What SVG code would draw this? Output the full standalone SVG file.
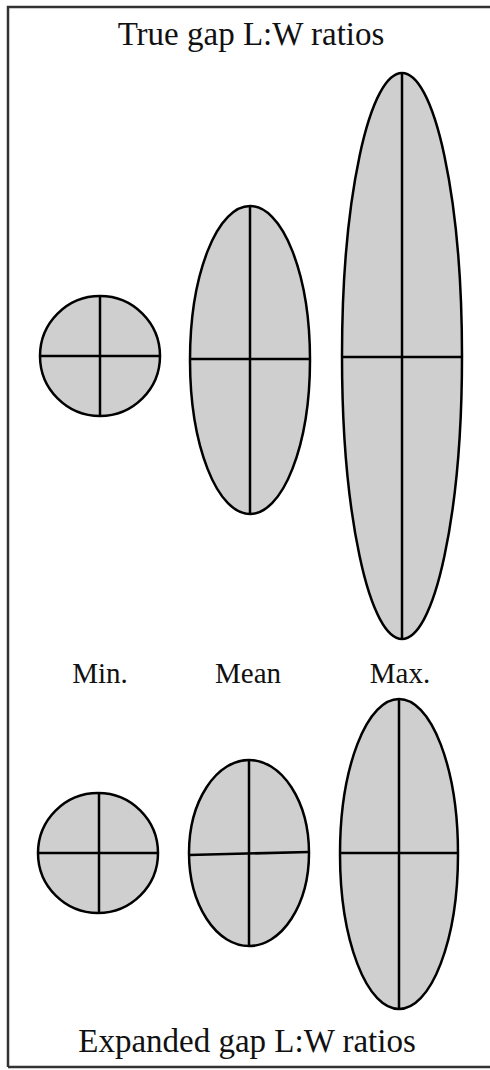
<svg xmlns="http://www.w3.org/2000/svg" width="490" height="1070" viewBox="0 0 490 1070">
<style>
.sh{fill:#cfcfcf;stroke:#000;stroke-width:2.5}
.ax{stroke:#000;stroke-width:2.5}
.t{font-family:"Liberation Serif","Times New Roman",serif;fill:#111;text-anchor:middle}
.frame{fill:none;stroke:#333;stroke-width:2.5}
</style>
<rect width="490" height="1070" fill="#fff"/>
<path class="frame" d="M8,1067 V7 H492 M8,1067 H492"/>
<text class="t" x="251" y="45" font-size="33">True gap L:W ratios</text>
<g id="true-min">
<circle class="sh" cx="100" cy="356" r="60"/>
<line class="ax" x1="40" y1="356" x2="160" y2="356"/>
<line class="ax" x1="100" y1="296" x2="100" y2="416"/>
</g>
<g id="true-mean">
<ellipse class="sh" cx="250" cy="360" rx="60" ry="154"/>
<line class="ax" x1="190" y1="359" x2="310" y2="359"/>
<line class="ax" x1="250" y1="206" x2="250" y2="514"/>
</g>
<g id="true-max">
<ellipse class="sh" cx="402" cy="356" rx="60" ry="283"/>
<line class="ax" x1="342" y1="357" x2="462" y2="357"/>
<line class="ax" x1="402" y1="73" x2="402" y2="639"/>
</g>
<text class="t" x="100" y="683" font-size="29">Min.</text>
<text class="t" x="248" y="683" font-size="29">Mean</text>
<text class="t" x="400" y="683" font-size="29">Max.</text>
<g id="exp-min">
<circle class="sh" cx="98" cy="853" r="60"/>
<line class="ax" x1="38" y1="853" x2="158" y2="853"/>
<line class="ax" x1="99" y1="793" x2="99" y2="913"/>
</g>
<g id="exp-mean">
<ellipse class="sh" cx="249" cy="853" rx="60" ry="93"/>
<line class="ax" x1="189" y1="855" x2="309" y2="852"/>
<line class="ax" x1="249" y1="760" x2="249" y2="946"/>
</g>
<g id="exp-max">
<ellipse class="sh" cx="399" cy="854" rx="59" ry="155"/>
<line class="ax" x1="340" y1="853" x2="458" y2="853"/>
<line class="ax" x1="399" y1="699" x2="399" y2="1009"/>
</g>
<text class="t" x="247" y="1052" font-size="33">Expanded gap L:W ratios</text>
<g id="connectors"/>
</svg>
